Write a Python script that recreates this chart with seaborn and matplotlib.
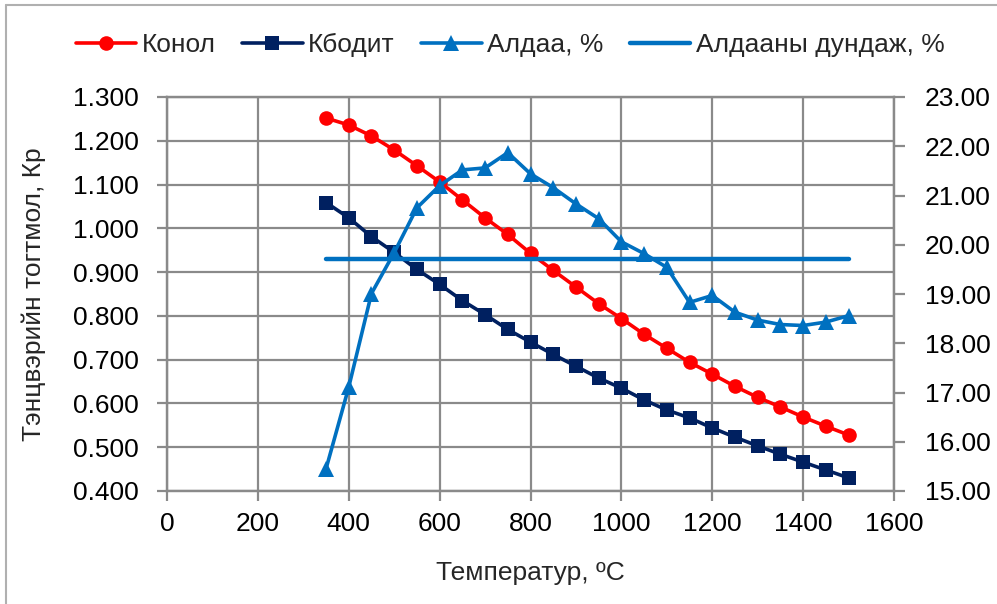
import matplotlib
matplotlib.use("Agg")
import matplotlib.pyplot as plt
import seaborn as sns
import pandas as pd
from matplotlib.ticker import FormatStrFormatter, MultipleLocator
from matplotlib.lines import Line2D

# ---------------- data ----------------
temperature = [350, 400, 450, 500, 550, 600, 650, 700, 750, 800, 850, 900,
               950, 1000, 1050, 1100, 1150, 1200, 1250, 1300, 1350, 1400, 1450, 1500]
konol = [1.252, 1.236, 1.211, 1.179, 1.143, 1.106, 1.065, 1.024, 0.986, 0.943, 0.904, 0.866,
         0.828, 0.794, 0.758, 0.726, 0.694, 0.667, 0.639, 0.614, 0.592, 0.569, 0.548, 0.528]
kbodit = [1.059, 1.024, 0.981, 0.945, 0.906, 0.872, 0.835, 0.803, 0.769, 0.740, 0.712, 0.685,
          0.658, 0.635, 0.608, 0.585, 0.567, 0.544, 0.523, 0.503, 0.484, 0.466, 0.448, 0.430]
aldaa = [15.45, 17.11, 19.01, 19.84, 20.75, 21.20, 21.52, 21.56, 21.87, 21.44, 21.16, 20.83,
         20.53, 20.06, 19.82, 19.54, 18.83, 18.97, 18.63, 18.47, 18.38, 18.36, 18.43, 18.56]
mean_temperature = [350, 1500]
aldaa_mean = [19.72, 19.72]

series_labels = ["Конол", "Кбодит", "Алдаа, %", "Алдааны дундаж, %"]
x_label = "Температур, ºC"
y_label = "Тэнцвэрийн тогтмол, Кр"

df = pd.DataFrame({"T": temperature, "konol": konol, "kbodit": kbodit, "aldaa": aldaa})
df_mean = pd.DataFrame({"T": mean_temperature, "mean": aldaa_mean})

# ---------------- style ----------------
sns.set_style("white")
plt.rcParams["font.family"] = ["Liberation Sans", "DejaVu Sans"]
FS = 19
GRID = "#8a8a8a"
RED = "#FF0000"
NAVY = "#002060"
BLUE = "#0070C0"

W, H = 997, 604
fig = plt.figure(figsize=(W / 100, H / 100), dpi=100)
L, R, T, B = 167, 894, 97, 491
ax = fig.add_axes([L / W, 1 - B / H, (R - L) / W, (B - T) / H])
ax2 = ax.twinx()

sns.lineplot(data=df, x="T", y="konol", ax=ax, color=RED, linewidth=2.6,
             marker="o", markersize=10.5, markeredgewidth=0, label=series_labels[0], legend=False)
sns.lineplot(data=df, x="T", y="kbodit", ax=ax, color=NAVY, linewidth=2.6,
             marker="s", markersize=10, markeredgewidth=0, label=series_labels[1], legend=False)
sns.lineplot(data=df, x="T", y="aldaa", ax=ax2, color=BLUE, linewidth=2.6,
             marker="^", markersize=11.5, markeredgewidth=0, label=series_labels[2], legend=False)
sns.lineplot(data=df_mean, x="T", y="mean", ax=ax2, color=BLUE, linewidth=3.2,
             label=series_labels[3], legend=False)

ax.set_xlim(0, 1600)
ax.set_ylim(0.4, 1.3)
ax2.set_ylim(15, 23)
ax.xaxis.set_major_locator(MultipleLocator(200))
ax.yaxis.set_major_locator(MultipleLocator(0.1))
ax2.yaxis.set_major_locator(MultipleLocator(1))
ax.yaxis.set_major_formatter(FormatStrFormatter("%.3f"))
ax2.yaxis.set_major_formatter(FormatStrFormatter("%.2f"))

ax.grid(True, color=GRID, linewidth=1.6)
ax2.grid(False)
ax.set_axisbelow(True)

for a in (ax, ax2):
    for s in a.spines.values():
        s.set_color(GRID)
        s.set_linewidth(1.6)

ax.tick_params(axis="both", which="major", direction="out", length=7, width=1.6,
               color=GRID, labelsize=FS, labelcolor="black", pad=13)
ax.tick_params(axis="y", left=True)
ax.tick_params(axis="x", bottom=True, pad=8)
ax2.tick_params(axis="y", direction="out", length=8, width=1.6, color=GRID,
                labelsize=FS, labelcolor="black", pad=14, right=True)

ax.set_xlabel(x_label, fontsize=FS, labelpad=18)
ax.set_ylabel(y_label, fontsize=FS, labelpad=20)
ax2.set_ylabel("")

h1, l1 = ax.get_legend_handles_labels()
h2, l2 = ax2.get_legend_handles_labels()
fig.legend(h1 + h2, l1 + l2, loc="center", bbox_to_anchor=(510 / W, 1 - 45 / H), ncol=4,
           frameon=False, fontsize=FS, handlelength=2.3, handletextpad=0.2,
           columnspacing=1.0, borderaxespad=0)

# thin page frame (top and left edges)
fig.add_artist(Line2D([6 / W, 1], [1 - 5 / H, 1 - 5 / H], color="#b0b0b0", linewidth=1.5,
                      transform=fig.transFigure))
fig.add_artist(Line2D([6 / W, 6 / W], [0, 1 - 5 / H], color="#b0b0b0", linewidth=1.5,
                      transform=fig.transFigure))

fig.savefig("out.png", dpi=100)
